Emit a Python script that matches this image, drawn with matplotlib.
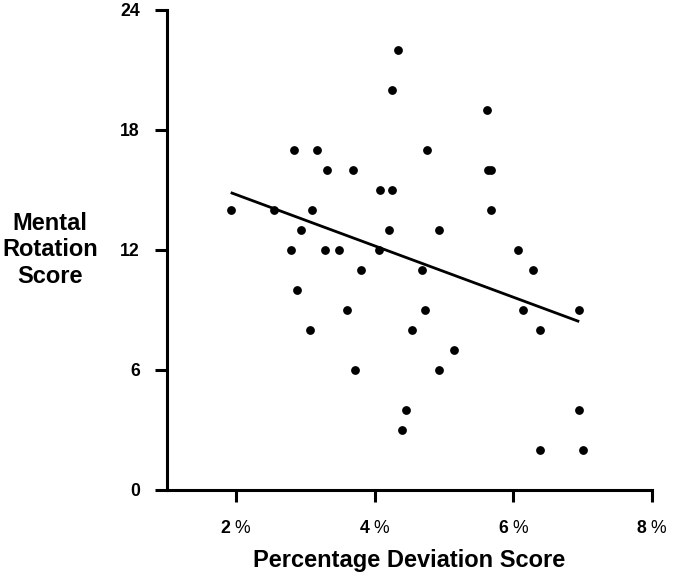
import matplotlib
matplotlib.use("Agg")
import matplotlib.pyplot as plt

plt.rcParams["font.family"] = ["Liberation Sans", "DejaVu Sans"]
plt.rcParams["mathtext.fontset"] = "custom"
plt.rcParams["mathtext.rm"] = "Liberation Sans"
plt.rcParams["mathtext.bf"] = "Liberation Sans:bold"

# percentage deviation score (%) and mental rotation score, one per participant
deviation = [1.93, 2.55, 2.79, 2.84, 2.87, 2.94, 3.07, 3.10, 3.16, 3.28,
             3.31, 3.48, 3.60, 3.69, 3.72, 3.80, 4.06, 4.07, 4.20, 4.25,
             4.25, 4.34, 4.39, 4.45, 4.53, 4.68, 4.73, 4.75, 4.92, 4.93,
             5.14, 5.62, 5.64, 5.68, 5.68, 6.06, 6.14, 6.29, 6.39, 6.39,
             6.95, 6.95, 7.00]
rotation = [14, 14, 12, 17, 10, 13, 8, 14, 17, 12,
            16, 12, 9, 16, 6, 11, 12, 15, 13, 15,
            20, 22, 3, 4, 8, 11, 9, 17, 13, 6,
            7, 19, 16, 16, 14, 12, 9, 11, 8, 2,
            9, 4, 2]

# regression line end points
fit_x = [1.92, 6.95]
fit_y = [14.87, 8.42]

xticks = [2, 4, 6, 8]
xtick_labels = [r"$\mathbf{2}$ %", r"$\mathbf{4}$ %", r"$\mathbf{6}$ %",
                r"$\mathbf{8}$ %"]
yticks = [0, 6, 12, 18, 24]

fig = plt.figure(figsize=(6.79, 5.77), dpi=100)
ax = fig.add_axes([0.2459, 0.1508, 0.7143, 0.8319])

ax.scatter(deviation, rotation, s=28, color="black", zorder=3, clip_on=False)
ax.plot(fit_x, fit_y, color="black", lw=2.0, solid_capstyle="butt")

ax.set_xlim(1, 8)
ax.set_ylim(0, 24)
ax.set_xticks(xticks)
ax.set_xticklabels(xtick_labels)
ax.set_yticks(yticks)

for side in ["top", "right"]:
    ax.spines[side].set_visible(False)
for side in ["left", "bottom"]:
    ax.spines[side].set_linewidth(2.2)

ax.tick_params(axis="both", direction="out", length=8.6, width=2.2,
               labelsize=12.7)
ax.tick_params(axis="x", pad=13)
ax.tick_params(axis="y", pad=11)
for lbl in ax.get_yticklabels():
    lbl.set_fontweight("bold")

fig.text(50 / 679, 1 - 250 / 577, "Mental\nRotation\nScore", ha="center",
         va="center", multialignment="center", fontsize=17,
         fontweight="bold", linespacing=1.2)
fig.text(409 / 679, 1 - 560 / 577, "Percentage Deviation Score",
         ha="center", va="center", fontsize=17, fontweight="bold")

fig.savefig("out.png", dpi=100)
